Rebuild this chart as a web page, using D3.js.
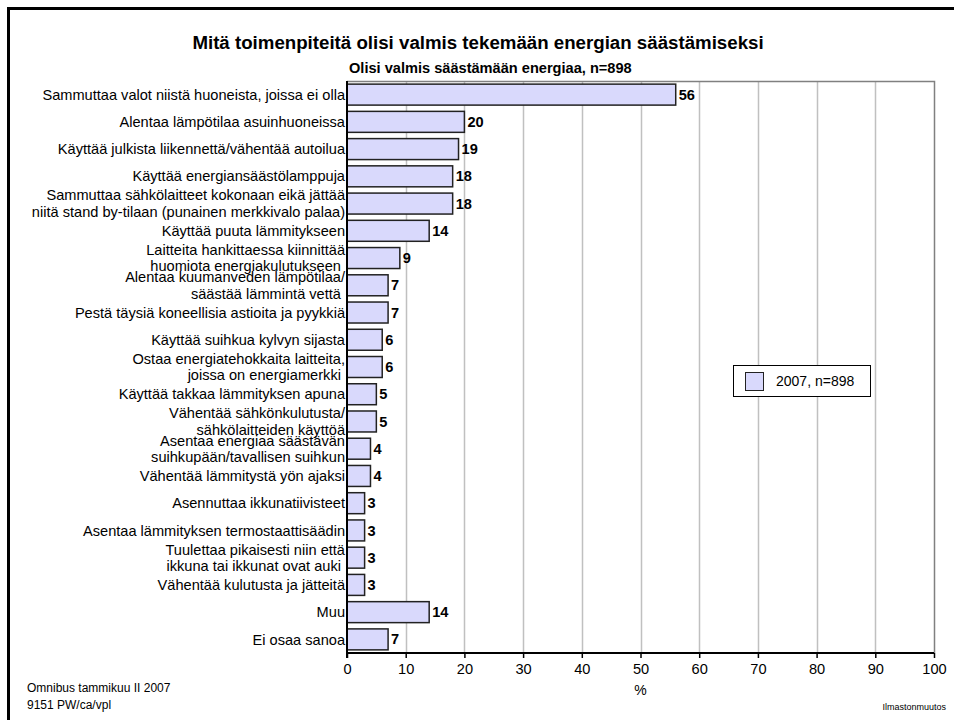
<!DOCTYPE html>
<html>
<head>
<meta charset="utf-8">
<script src="https://cdn.jsdelivr.net/npm/d3@7"></script>
<style>
  body { margin: 0; background: #fff; }
  svg { display: block; font-family: "Liberation Sans", Arial, sans-serif; }
  text { white-space: pre; }
</style>
</head>
<body>
<div id="chart"></div>
<script>
// Category labels (lines separated by |) and values (%)
var categories = [
  'Sammuttaa valot niistä huoneista, joissa ei olla',
  'Alentaa lämpötilaa asuinhuoneissa',
  'Käyttää julkista liikennettä/vähentää autoilua',
  'Käyttää energiansäästölamppuja',
  'Sammuttaa sähkölaitteet kokonaan eikä jättää|niitä stand by-tilaan (punainen merkkivalo palaa)',
  'Käyttää puuta lämmitykseen',
  'Laitteita hankittaessa kiinnittää|huomiota energiakulutukseen ',
  'Alentaa kuumanveden lämpötilaa/|säästää lämmintä vettä ',
  'Pestä täysiä koneellisia astioita ja pyykkiä',
  'Käyttää suihkua kylvyn sijasta',
  'Ostaa energiatehokkaita laitteita,|joissa on energiamerkki ',
  'Käyttää takkaa lämmityksen apuna',
  'Vähentää sähkönkulutusta/|sähkölaitteiden käyttöä',
  'Asentaa energiaa säästävän|suihkupään/tavallisen suihkun',
  'Vähentää lämmitystä yön ajaksi',
  'Asennuttaa ikkunatiivisteet',
  'Asentaa lämmityksen termostaattisäädin',
  'Tuulettaa pikaisesti niin että|ikkuna tai ikkunat ovat auki ',
  'Vähentää kulutusta ja jätteitä',
  'Muu',
  'Ei osaa sanoa'
];
var values = [56, 20, 19, 18, 18, 14, 9, 7, 7, 6, 6, 5, 5, 4, 4, 3, 3, 3, 3, 14, 7];
var xTicks = [0, 10, 20, 30, 40, 50, 60, 70, 80, 90, 100];

var title = 'Mitä toimenpiteitä olisi valmis tekemään energian säästämiseksi',
    subtitle = 'Olisi valmis säästämään energiaa, n=898',
    seriesName = '2007, n=898',
    axisTitle = '%',
    sourceLines = ['Omnibus tammikuu II 2007', '9151 PW/ca/vpl'],
    footRight = 'Ilmastonmuutos';

var width = 954, height = 720,
    plot = {left: 347, right: 934, top: 81, bottom: 653},
    barFill = '#d9d9fc';

var data = categories.map(function(c, i) { return {label: c, value: values[i]}; });

var svg = d3.select('#chart').append('svg')
  .attr('width', width)
  .attr('height', height);

// Outer frame (right and bottom edges run off the page)
svg.append('rect')
  .attr('x', 8.5).attr('y', 8.5)
  .attr('width', 960).attr('height', 730)
  .attr('fill', 'none')
  .attr('stroke', '#000')
  .attr('stroke-width', 3);

var x = d3.scaleLinear().domain([0, 100]).range([plot.left, plot.right]);
var y = d3.scaleBand()
  .domain(d3.range(data.length))
  .range([plot.top, plot.bottom])
  .paddingInner(0.23)
  .paddingOuter(0.115);

// Titles
svg.append('text')
  .attr('x', 478).attr('y', 49)
  .attr('text-anchor', 'middle')
  .style('font-size', '18.7px').style('font-weight', 'bold')
  .text(title);

svg.append('text')
  .attr('x', 349).attr('y', 73)
  .style('font-size', '14.6px').style('font-weight', 'bold')
  .text(subtitle);

// Gridlines
svg.append('g').selectAll('line')
  .data(xTicks.slice(1, -1))
  .enter().append('line')
    .attr('x1', function(d) { return Math.round(x(d)) + 0.5; })
    .attr('x2', function(d) { return Math.round(x(d)) + 0.5; })
    .attr('y1', plot.top).attr('y2', plot.bottom)
    .attr('stroke', '#c0c0c0')
    .attr('stroke-width', 1.5);

// Plot border top / right
svg.append('path')
  .attr('d', 'M' + plot.left + ',' + (plot.top + 0.5) + 'H' + (plot.right + 0.5) + 'V' + plot.bottom)
  .attr('fill', 'none')
  .attr('stroke', '#808080')
  .attr('stroke-width', 1.5);

// Category labels (drawn before bars so bars overlap long labels)
var labels = svg.append('g').selectAll('text')
  .data(data)
  .enter().append('text')
    .attr('text-anchor', 'end')
    .attr('transform', function(d, i) {
      return 'translate(' + (plot.left - 2) + ',' + (y(i) + y.bandwidth() / 2) + ')';
    })
    .style('font-size', '14.6px')
    .attr('fill', '#000');

labels.each(function(d) {
  var lines = d.label.split('|'),
      t = d3.select(this),
      lh = 16.5;
  lines.forEach(function(line, j) {
    t.append('tspan')
      .attr('x', 0)
      .attr('y', (j - (lines.length - 1) / 2) * lh)
      .attr('dy', '0.35em')
      .text(line);
  });
});

// Bars
svg.append('g').selectAll('rect')
  .data(data)
  .enter().append('rect')
    .attr('x', x(0))
    .attr('y', function(d, i) { return y(i); })
    .attr('width', function(d) { return x(d.value) - x(0); })
    .attr('height', y.bandwidth())
    .attr('fill', barFill)
    .attr('stroke', '#222')
    .attr('stroke-width', 1.5);

// Value labels
svg.append('g').selectAll('text')
  .data(data)
  .enter().append('text')
    .attr('x', function(d) { return x(d.value) + 3; })
    .attr('y', function(d, i) { return y(i) + y.bandwidth() / 2; })
    .attr('dy', '0.35em')
    .style('font-size', '14.6px').style('font-weight', 'bold')
    .text(function(d) { return d.value; });

// Axes
var xAxis = d3.axisBottom(x).tickValues(xTicks).tickSize(5).tickPadding(6);
var gx = svg.append('g')
  .attr('transform', 'translate(0,' + plot.bottom + ')')
  .call(xAxis);
gx.select('.domain').attr('d', 'M' + plot.left + ',0H' + plot.right)
  .attr('stroke', '#000').attr('stroke-width', 2);
gx.selectAll('.tick line').attr('stroke', '#000').attr('stroke-width', 1.5);
gx.selectAll('.tick text')
  .style('font-size', '14.6px')
  .style('font-family', '"Liberation Sans", Arial, sans-serif')
  .attr('fill', '#000');

svg.append('line')
  .attr('x1', plot.left).attr('x2', plot.left)
  .attr('y1', plot.top).attr('y2', plot.bottom + 5)
  .attr('stroke', '#000').attr('stroke-width', 2);

svg.append('text')
  .attr('x', x(50)).attr('y', 695)
  .attr('text-anchor', 'middle')
  .style('font-size', '14px')
  .text(axisTitle);

// Legend
var legend = svg.append('g').attr('transform', 'translate(733,365)');
legend.append('rect')
  .attr('x', 0.5).attr('y', 0.5)
  .attr('width', 137).attr('height', 31)
  .attr('fill', '#fff').attr('stroke', '#000').attr('stroke-width', 1);
legend.append('rect')
  .attr('x', 12.5).attr('y', 7.5)
  .attr('width', 18).attr('height', 18)
  .attr('fill', barFill).attr('stroke', '#222').attr('stroke-width', 1);
legend.append('text')
  .attr('x', 43).attr('y', 21)
  .style('font-size', '14px')
  .text(seriesName);

// Footnotes
svg.append('g').selectAll('text')
  .data(sourceLines)
  .enter().append('text')
    .attr('x', 27)
    .attr('y', function(d, i) { return 692 + i * 17; })
    .style('font-size', '12px')
    .text(function(d) { return d; });

svg.append('text')
  .attr('x', 946).attr('y', 710)
  .attr('text-anchor', 'end')
  .style('font-size', '9px')
  .text(footRight);
</script>
</body>
</html>
